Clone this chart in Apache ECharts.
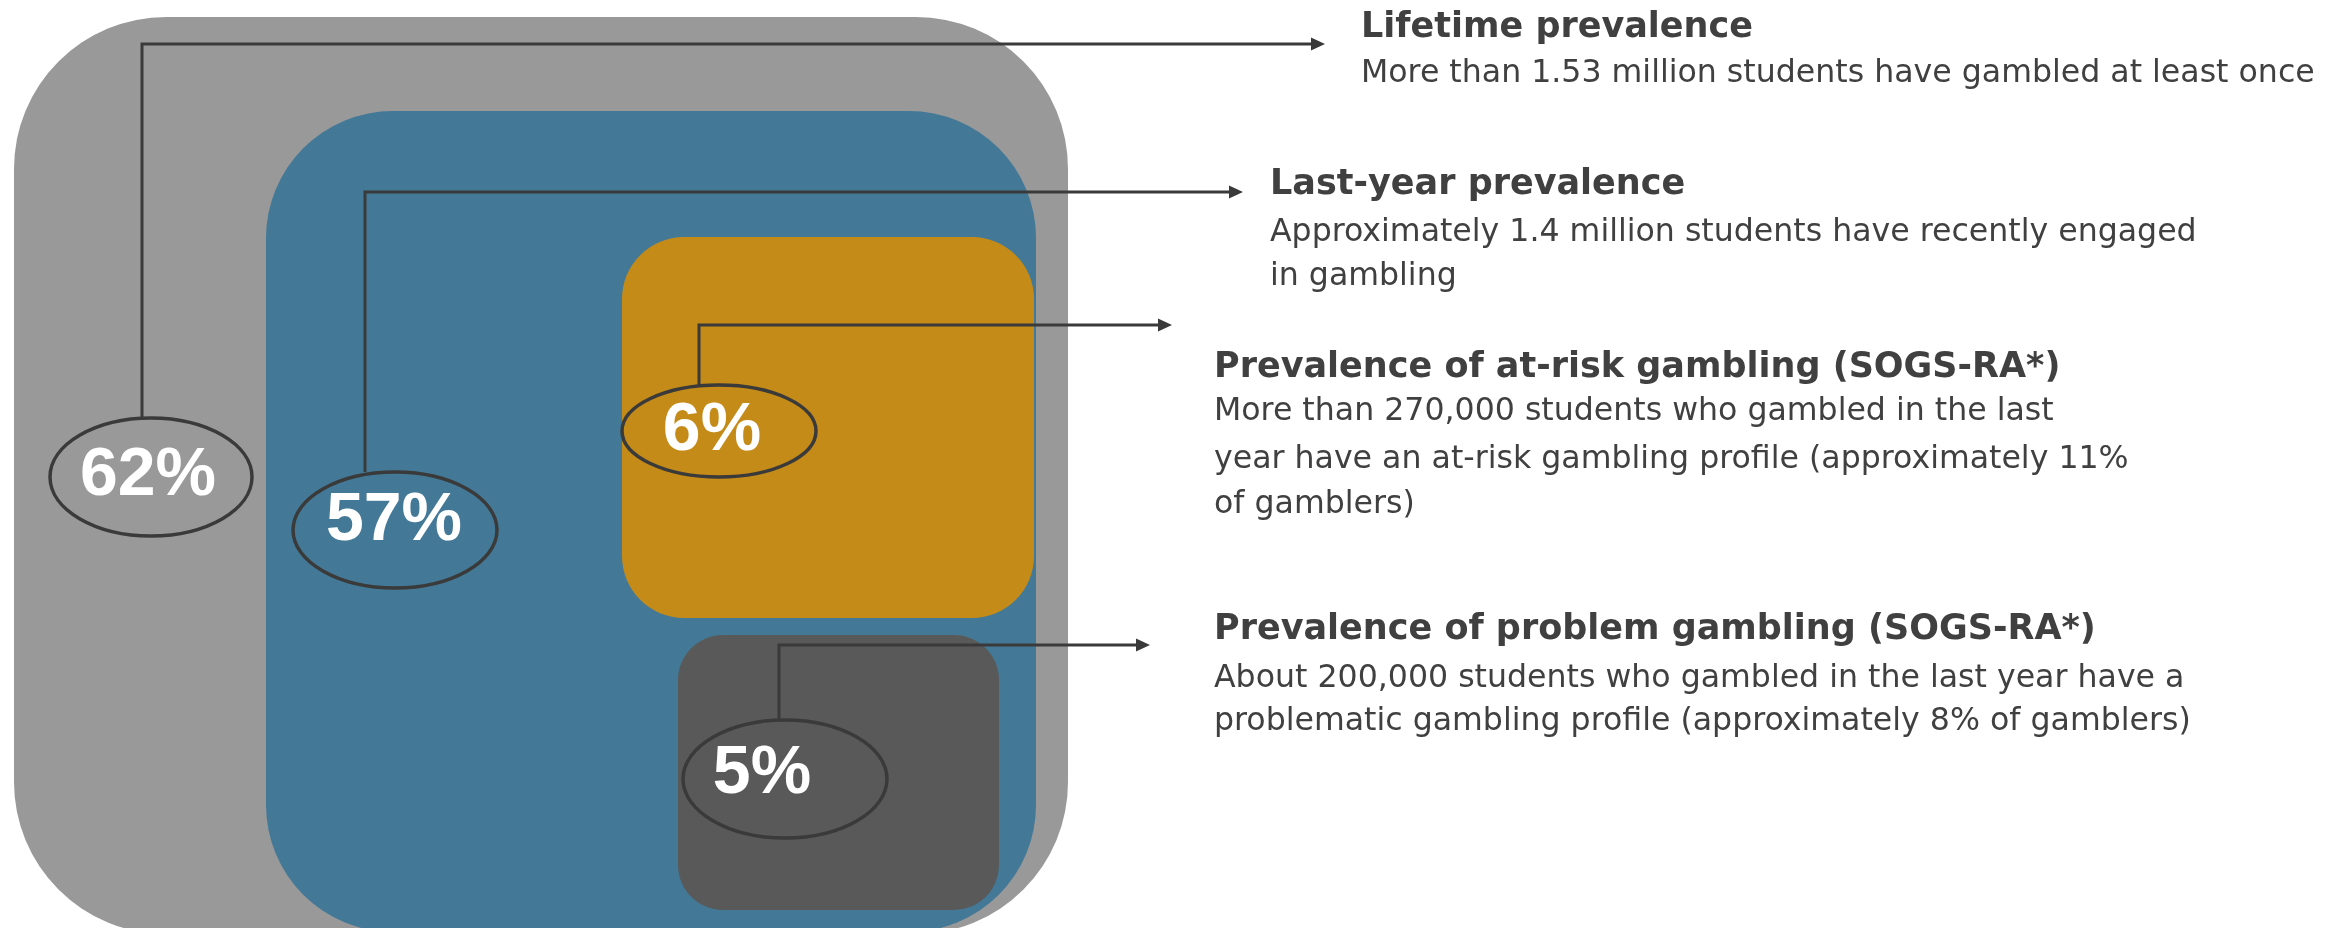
<!DOCTYPE html>
<html>
<head>
<meta charset="utf-8">
<script src="https://cdn.jsdelivr.net/npm/echarts@6/dist/echarts.min.js"></script>
<style>
html,body{margin:0;padding:0;background:#fff;}
#chart{width:2348px;height:928px;}
</style>
</head>
<body>
<div id="chart"></div>
<script>
// ---- data ----
const categories = [
  'Lifetime prevalence',
  'Last-year prevalence',
  'Prevalence of at-risk gambling (SOGS-RA*)',
  'Prevalence of problem gambling (SOGS-RA*)'
];
const values = [62, 57, 6, 5];
const valueLabels = ['62%', '57%', '6%', '5%'];
const descriptions = [
  ['More than 1.53 million students have gambled at least once'],
  ['Approximately 1.4 million students have recently engaged', 'in gambling'],
  ['More than 270,000 students who gambled in the last',
   'year have an at-risk gambling profile (approximately 11%',
   'of gamblers)'],
  ['About 200,000 students who gambled in the last year have a',
   'problematic gambling profile (approximately 8% of gamblers)']
];

// ---- layout (diagram space, mapped through hidden axes) ----
const boxLayout = [
  {x0: 14,  y0: 17,  x1: 1068, y1: 934, r: 152},
  {x0: 266, y0: 111, x1: 1036, y1: 932, r: 127},
  {x0: 622, y0: 237, x1: 1034, y1: 618, r: 62},
  {x0: 678, y0: 635, x1: 999,  y1: 910, r: 45}
];
const ellipseLayout = [
  {cx: 151, cy: 477, rx: 101, ry: 59},
  {cx: 395, cy: 530, rx: 102, ry: 58},
  {cx: 719, cy: 431, rx: 97,  ry: 46},
  {cx: 785, cy: 779, rx: 102, ry: 59}
];
const labelLayout = [[148, 476], [394, 521], [712, 431], [762, 774]];
const connectorLayout = [
  {x: 142, y: 44,  tip: 1325},
  {x: 365, y: 192, tip: 1243},
  {x: 699, y: 325, tip: 1172},
  {x: 779, y: 645, tip: 1150}
];
const textLayout = [
  {x: 1361, title: 28,  lines: [74]},
  {x: 1270, title: 185, lines: [233, 277]},
  {x: 1214, title: 368, lines: [412, 460, 505]},
  {x: 1214, title: 630, lines: [679, 722]}
];
const boxColors = ['#999999', '#437997', '#C48B19', '#595959'];
const lineColor = '#3a3a3a';
const textColor = '#404040';

const chart = echarts.init(document.getElementById('chart'), null, {renderer: 'canvas'});

function P(api, x, y) { return api.coord([x, y]); }

const option = {
  animation: false,
  backgroundColor: '#ffffff',
  grid: {left: 0, right: 0, top: 0, bottom: 0},
  xAxis: {type: 'value', min: 0, max: 2348, show: false},
  yAxis: {type: 'value', min: 0, max: 928, inverse: true, show: false},
  series: [
    {
      type: 'custom',
      name: 'boxes',
      clip: false,
      data: values.map((v, i) => [i, v]),
      renderItem: function (params, api) {
        const i = api.value(0);
        const b = boxLayout[i];
        const p0 = P(api, b.x0, b.y0), p1 = P(api, b.x1, b.y1);
        return {
          type: 'rect',
          shape: {x: p0[0], y: p0[1], width: p1[0] - p0[0], height: p1[1] - p0[1], r: b.r},
          style: {fill: boxColors[i]}
        };
      }
    },
    {
      type: 'custom',
      name: 'annotations',
      clip: false,
      data: values.map((v, i) => [i, v]),
      renderItem: function (params, api) {
        const i = api.value(0);
        const e = ellipseLayout[i];
        const c = connectorLayout[i];
        const t = textLayout[i];
        const ec = P(api, e.cx, e.cy);
        const top = P(api, c.x, e.cy - e.ry);
        const corner = P(api, c.x, c.y);
        const tip = P(api, c.tip, c.y);
        const head = 14, hw = 6.5;
        const children = [
          {
            type: 'polyline',
            shape: {points: [top, corner, [tip[0] - head + 1, tip[1]]]},
            style: {stroke: lineColor, lineWidth: 3, fill: null}
          },
          {
            type: 'polygon',
            shape: {points: [[tip[0], tip[1]], [tip[0] - head, tip[1] - hw], [tip[0] - head, tip[1] + hw]]},
            style: {fill: lineColor}
          },
          {
            type: 'ellipse',
            shape: {cx: ec[0], cy: ec[1], rx: e.rx, ry: e.ry},
            style: {fill: null, stroke: lineColor, lineWidth: 3.5}
          }
        ];
        const lp = P(api, labelLayout[i][0], labelLayout[i][1]);
        children.push({
          type: 'text',
          style: {
            text: valueLabels[i], x: lp[0], y: lp[1],
            fill: '#ffffff', font: 'bold 68px "Liberation Sans", Arial, sans-serif',
            align: 'center', verticalAlign: 'middle'
          }
        });
        const tp = P(api, t.x, t.title);
        children.push({
          type: 'text',
          style: {
            text: categories[i], x: tp[0], y: tp[1],
            fill: textColor, font: 'bold 35px "DejaVu Sans", sans-serif',
            align: 'left', verticalAlign: 'middle'
          }
        });
        descriptions[i].forEach(function (line, k) {
          const dp = P(api, t.x, t.lines[k]);
          children.push({
            type: 'text',
            style: {
              text: line, x: dp[0], y: dp[1],
              fill: textColor, font: '31.6px "DejaVu Sans", sans-serif',
              align: 'left', verticalAlign: 'middle'
            }
          });
        });
        return {type: 'group', children: children};
      }
    }
  ]
};
chart.setOption(option);
</script>
</body>
</html>
